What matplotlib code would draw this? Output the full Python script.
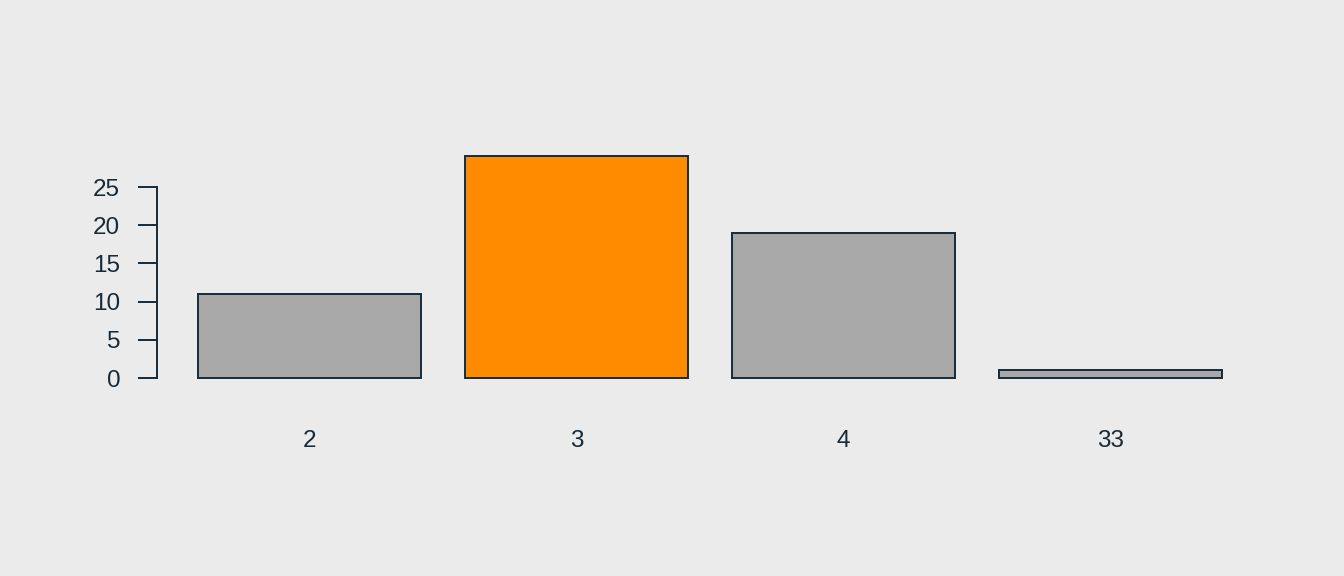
import matplotlib
matplotlib.use("Agg")
import matplotlib.pyplot as plt

# data
categories = ["2", "3", "4", "33"]
counts = [11, 29, 19, 1]
highlight = "3"

bg = "#EBEBEB"
ink = "#172A3A"
gray = "#A8A8A8"
orange = "#FF8C00"

plt.rcParams["font.family"] = ["Liberation Sans", "DejaVu Sans"]

fig = plt.figure(figsize=(13.44, 5.76), dpi=100, facecolor=bg)
ax = fig.add_axes([157 / 1344, 1 - 386.9 / 576, 1106 / 1344, (386.9 - 147.6) / 576])
ax.set_facecolor(bg)

# R barplot layout: width 1, space 0.2
centers = [0.2 + i * 1.2 + 0.5 for i in range(len(categories))]
colors = [orange if c == highlight else gray for c in categories]
ax.bar(centers, counts, width=1.0, color=colors, edgecolor=ink, linewidth=1.4)

ax.set_xlim(0.016, 4.984)
ax.set_ylim(-1.16, 30.16)

for s in ["top", "right", "bottom"]:
    ax.spines[s].set_visible(False)
ax.spines["left"].set_color(ink)
ax.spines["left"].set_linewidth(1.4)
ax.spines["left"].set_bounds(0, 25)

ax.set_yticks([0, 5, 10, 15, 20, 25])
ax.tick_params(axis="y", direction="out", length=13.5, width=1.4, color=ink,
               labelcolor=ink, labelsize=17.5, pad=13)
ax.set_xticks(centers)
ax.set_xticklabels(categories)
ax.tick_params(axis="x", length=0, labelcolor=ink, labelsize=17.5, pad=31)

fig.savefig("out.png", dpi=100, facecolor=bg)
